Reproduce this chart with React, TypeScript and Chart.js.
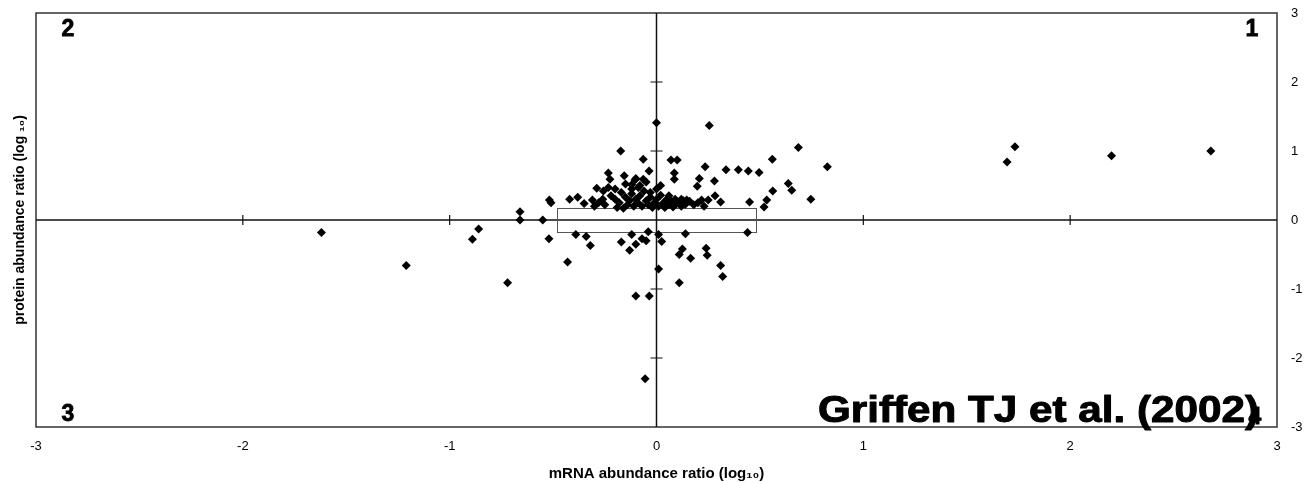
import { useEffect, useRef } from "react";
import { Chart, registerables } from "chart.js";

Chart.register(...registerables);

// mRNA abundance ratio (log10) for each protein
const mrnaRatio = [
  1.733, 1.695, 2.2, 2.68, -1.62, -1.21, -0.72, -0.89, -0.86, -0.66,
  -0.66, -0.55, -0.52, -0.39, -0.34, -0.32, -0.43, -0.17, -0.13, -0.12,
  -0.1, -0.07, -0.05, -0.04, 0.01, 0.025, 0.01, -0.1, -0.035, 0.11,
  0.11, 0.14, 0.125, 0.165, 0.24, 0.245, 0.31, 0.32, 0.44, 0.52,
  0.45, 0.31, -0.055, 0.0, 0.255, 0.686, 0.826, 0.56, 0.07, 0.1,
  -0.064, -0.036, 0.086, 0.086, 0.235, 0.336, 0.396, 0.444, 0.496, 0.207,
  0.197, 0.28, 0.637, 0.654, 0.562, 0.746, 0.533, 0.283, 0.218, 0.25,
  0.12, 0.146, 0.094, -0.173, -0.233, -0.225, -0.156, -0.104, -0.064, -0.12,
  -0.088, -0.289, -0.257, -0.233, -0.381, -0.31, -0.518, -0.51,
  -0.22, -0.2, -0.18, -0.17, -0.15, -0.14, -0.13, -0.12, -0.11, -0.1,
  -0.09, -0.08, -0.07, -0.06, -0.05, -0.04, -0.03, -0.02, -0.01, 0.0,
  0.01, 0.02, 0.03, 0.04, 0.05, 0.06, 0.07, 0.08, 0.1, 0.12,
  0.14, 0.16, 0.18, -0.25, -0.28, -0.3, -0.19, -0.16, -0.08, -0.12,
  -0.03, 0.0, 0.02, -0.2, -0.26, 0.06, 0.09, 0.13, -0.35, -0.42,
  -0.15, -0.05, -0.1, 0.045, 0.2, 0.23,
];

// protein abundance ratio (log10) for each protein
const proteinRatio = [
  1.06, 0.84, 0.93, 1.0, -0.18, -0.66, -0.91, -0.28, -0.13, 0.12,
  0.0, 0.0, -0.27, -0.21, -0.24, -0.37, -0.61, -0.32, -0.44, -0.21,
  -0.35, -0.27, -0.3, -0.17, -0.21, -0.31, -0.71, -1.1, -1.1, -0.5,
  -0.91, -0.2, -0.42, -0.555, -0.41, -0.51, -0.66, -0.82, -0.18, 0.19,
  0.26, 0.26, -2.3, 1.41, 1.37, 1.05, 0.77, 0.88, 0.87, 0.87,
  0.88, 0.71, 0.68, 0.59, 0.77, 0.73, 0.73, 0.71, 0.69, 0.6,
  0.49, 0.565, 0.53, 0.43, 0.42, 0.3, 0.29, 0.35, 0.29, 0.29,
  0.3, 0.29, 0.23, 1.0, 0.68, 0.59, 0.64, 0.58, 0.59, 0.51,
  0.47, 0.46, 0.42, 0.47, 0.33, 0.29, 0.29, 0.25,
  0.35, 0.3, 0.25, 0.4, 0.33, 0.22, 0.28, 0.38, 0.2, 0.3,
  0.25, 0.35, 0.2, 0.42, 0.28, 0.22, 0.33, 0.18, 0.25, 0.3,
  0.2, 0.36, 0.24, 0.18, 0.3, 0.22, 0.27, 0.19, 0.25, 0.2,
  0.23, 0.27, 0.22, 0.22, 0.25, 0.2, 0.18, 0.17, 0.5, 0.45,
  0.4, 0.45, 0.5, 0.45, 0.3, 0.35, 0.3, 0.28, 0.24, 0.3,
  0.52, 0.55, 0.6, 0.2, 0.25, 0.2,
];

const axisMin = -3;
const axisMax = 3;
const crossTicks = [-2, -1, 1, 2];
const boxMrna = [-0.48, 0.48];
const boxProtein = [-0.17, 0.18];
const quadrantLabels = ["1", "2", "3", "4"];
const citation = "Griffen TJ et al. (2002)";
const xTitle = "mRNA abundance ratio (log\u2081\u2080)";
const yTitle = "protein abundance ratio (log \u2081\u2080)";

const FONT = "'Liberation Sans', Arial, Helvetica, sans-serif";

const overlayPlugin = {
  id: "overlay",
  beforeDatasetsDraw(chart: any) {
    const { ctx, chartArea, scales } = chart;
    const xs = scales.x;
    const ys = scales.y;
    const x0 = xs.getPixelForValue(0);
    const y0 = ys.getPixelForValue(0);
    ctx.save();
    // frame
    ctx.strokeStyle = "#333";
    ctx.lineWidth = 1.5;
    ctx.strokeRect(chartArea.left, chartArea.top, chartArea.right - chartArea.left, chartArea.bottom - chartArea.top);
    // central axes
    ctx.strokeStyle = "#111";
    ctx.lineWidth = 1.5;
    ctx.beginPath();
    ctx.moveTo(x0, chartArea.top);
    ctx.lineTo(x0, chartArea.bottom);
    ctx.moveTo(chartArea.left, y0);
    ctx.lineTo(chartArea.right, y0);
    ctx.stroke();
    ctx.lineWidth = 1.2;
    ctx.beginPath();
    crossTicks.forEach((v) => {
      const py = ys.getPixelForValue(v);
      ctx.moveTo(x0 - 6, py);
      ctx.lineTo(x0 + 6, py);
      const px = xs.getPixelForValue(v);
      ctx.moveTo(px, y0 - 5);
      ctx.lineTo(px, y0 + 5);
    });
    ctx.stroke();
    // threshold box
    const bx1 = xs.getPixelForValue(boxMrna[0]);
    const bx2 = xs.getPixelForValue(boxMrna[1]);
    const by1 = ys.getPixelForValue(boxProtein[1]);
    const by2 = ys.getPixelForValue(boxProtein[0]);
    ctx.strokeStyle = "#555";
    ctx.lineWidth = 1;
    ctx.strokeRect(Math.round(bx1) + 0.5, Math.round(by1) + 0.5, Math.round(bx2 - bx1), Math.round(by2 - by1));
    ctx.restore();
  },
  afterDatasetsDraw(chart: any) {
    const { ctx, chartArea } = chart;
    const { left, right, top, bottom } = chartArea;
    ctx.save();
    ctx.fillStyle = "#000";
    ctx.strokeStyle = "#000";
    ctx.lineWidth = 0.8;
    ctx.font = `bold 23px ${FONT}`;
    ctx.textAlign = "center";
    ctx.textBaseline = "middle";
    const q: [string, number, number][] = [
      [quadrantLabels[1], left + 32, top + 17],
      [quadrantLabels[0], right - 25, top + 17],
      [quadrantLabels[2], left + 32, bottom - 12],
      [quadrantLabels[3], right - 22, bottom - 9],
    ];
    q.forEach(([t, x, y]) => {
      ctx.fillText(t, x, y);
      ctx.strokeText(t, x, y);
    });
    // citation
    ctx.font = `bold 37px ${FONT}`;
    ctx.textAlign = "left";
    ctx.textBaseline = "alphabetic";
    ctx.lineWidth = 1.0;
    ctx.lineJoin = "round";
    const w = ctx.measureText(citation).width;
    const targetW = 441;
    ctx.translate(818, bottom - 5);
    ctx.scale(targetW / w, 1);
    ctx.fillText(citation, 0, 0);
    ctx.strokeText(citation, 0, 0);
    ctx.restore();
  },
};

export default function App() {
  const canvasRef = useRef<HTMLCanvasElement | null>(null);

  useEffect(() => {
    if (!canvasRef.current) return;
    const points = mrnaRatio.map((x, i) => ({ x, y: proteinRatio[i] }));
    const chart = new Chart(canvasRef.current, {
      type: "scatter",
      data: {
        datasets: [
          {
            label: "proteins",
            data: points,
            pointStyle: "rectRot",
            pointRadius: 4.5,
            pointHoverRadius: 4.5,
            backgroundColor: "#000",
            borderColor: "#000",
            borderWidth: 0,
          },
        ],
      },
      options: {
        responsive: false,
        animation: false,
        layout: { padding: 0 },
        plugins: {
          legend: { display: false },
          tooltip: { enabled: false },
        },
        scales: {
          x: {
            type: "linear",
            position: "bottom",
            min: axisMin,
            max: axisMax,
            ticks: {
              stepSize: 1,
              color: "#000",
              padding: 12,
              font: { family: FONT, size: 13 },
            },
            grid: { display: false, drawTicks: false },
            border: { display: false },
            title: {
              display: true,
              text: xTitle,
              color: "#000",
              font: { family: FONT, size: 15, weight: "bold" },
              padding: { top: 0, bottom: 0 },
            },
            afterFit: (s: any) => {
              s.height = 56;
              s.paddingLeft = 0;
              s.paddingRight = 0;
            },
          },
          xt: {
            type: "linear",
            position: "top",
            min: axisMin,
            max: axisMax,
            ticks: { display: false },
            grid: { display: false, drawTicks: false },
            border: { display: false },
            afterFit: (s: any) => {
              s.height = 13;
              s.paddingLeft = 0;
              s.paddingRight = 0;
            },
          },
          y: {
            type: "linear",
            position: "right",
            min: axisMin,
            max: axisMax,
            ticks: {
              stepSize: 1,
              color: "#000",
              padding: 14,
              font: { family: FONT, size: 13 },
            },
            grid: { display: false, drawTicks: false },
            border: { display: false },
            afterFit: (s: any) => {
              s.width = 37;
              s.paddingTop = 0;
              s.paddingBottom = 0;
            },
          },
          yl: {
            type: "linear",
            position: "left",
            min: axisMin,
            max: axisMax,
            ticks: { display: false },
            grid: { display: false, drawTicks: false },
            border: { display: false },
            title: {
              display: true,
              text: yTitle,
              color: "#000",
              font: { family: FONT, size: 14, weight: "bold" },
              padding: { top: 12, bottom: 0 },
            },
            afterFit: (s: any) => {
              s.width = 36;
              s.paddingTop = 0;
              s.paddingBottom = 0;
            },
          },
        },
      } as any,
      plugins: [overlayPlugin],
    });
    return () => chart.destroy();
  }, []);

  return (
    <div style={{ position: "fixed", left: 0, top: 0, width: 1314, height: 483, background: "#fff" }}>
      <canvas ref={canvasRef} width={1314} height={483} style={{ display: "block", width: 1314, height: 483 }} />
    </div>
  );
}
